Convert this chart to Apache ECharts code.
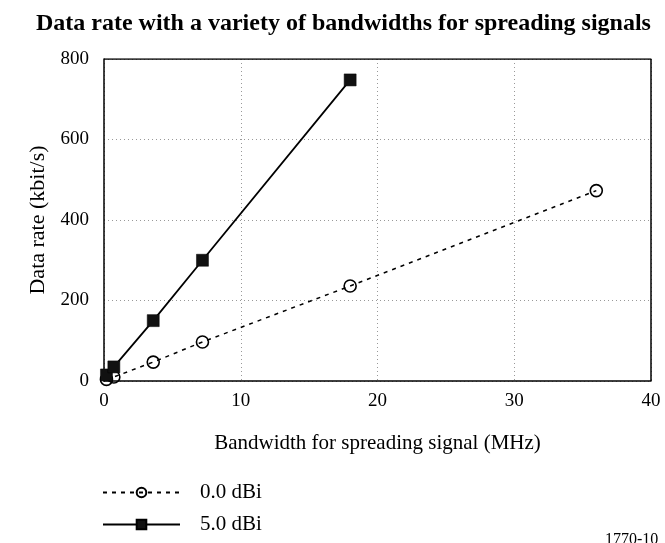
<!DOCTYPE html>
<html>
<head>
<meta charset="utf-8">
<script src="https://cdn.jsdelivr.net/npm/echarts@6/dist/echarts.min.js"></script>
<style>html,body{margin:0;padding:0;background:#fff;}#c{width:665px;height:543px;}</style>
</head>
<body>
<div id="c"></div>
<script>
const seriesNames = ['0.0 dBi', '5.0 dBi'];
const bw0 = [0.18, 0.72, 3.6, 7.2, 18, 36];
const rate0 = [4, 10, 47, 97, 236, 473];
const bw5 = [0.18, 0.72, 3.6, 7.2, 18];
const rate5 = [15, 35, 150, 300, 748];
const xTicks = [0, 10, 20, 30, 40];
const yTicks = [0, 200, 400, 600, 800];

const font = '"Liberation Serif", "Times New Roman", serif';
const chart = echarts.init(document.getElementById('c'), null, {renderer: 'canvas'});
chart.setOption({
  backgroundColor: '#fff',
  animation: false,
  title: {
    text: 'Data rate with a variety of bandwidths for spreading signals',
    left: 31, top: 7,
    textStyle: {fontFamily: font, fontSize: 24, fontWeight: 'bold', color: '#000'}
  },
  graphic: [{
    type: 'text', left: 605, top: 532,
    style: {text: '1770-10', font: '16px ' + font, fill: '#000'}
  }],
  legend: {
    orient: 'vertical', left: 97, top: 477, itemGap: 11,
    itemWidth: 77, itemHeight: 12,
    textStyle: {fontFamily: font, fontSize: 21, color: '#000', padding: [0, 0, 0, 15]},
    data: seriesNames
  },
  grid: {left: 104, right: 14, top: 59, bottom: 162, show: false},
  xAxis: {
    type: 'value', min: xTicks[0], max: xTicks[xTicks.length - 1], interval: 10,
    name: 'Bandwidth for spreading signal (MHz)', nameLocation: 'middle', nameGap: 52,
    nameTextStyle: {fontFamily: font, fontSize: 21, color: '#000'},
    axisLine: {show: true, onZero: false, lineStyle: {color: '#000', width: 1.5}},
    axisTick: {show: false},
    axisLabel: {fontFamily: font, fontSize: 19, color: '#000', margin: 11},
    splitLine: {show: true, lineStyle: {color: '#999', type: [1, 3], width: 1}}
  },
  yAxis: {
    type: 'value', min: yTicks[0], max: yTicks[yTicks.length - 1], interval: 200,
    name: 'Data rate (kbit/s)', nameLocation: 'middle', nameGap: 53,
    nameTextStyle: {fontFamily: font, fontSize: 22, color: '#000'},
    axisLine: {show: true, onZero: false, lineStyle: {color: '#000', width: 1.5}},
    axisTick: {show: false},
    axisLabel: {fontFamily: font, fontSize: 19, color: '#000', margin: 15},
    splitLine: {show: true, lineStyle: {color: '#999', type: [1, 3], width: 1}}
  },
  series: [
    {
      name: seriesNames[0], type: 'line',
      data: bw0.map((x, i) => [x, rate0[i]]),
      symbol: 'circle', symbolSize: 12, showAllSymbol: true,
      itemStyle: {color: 'rgba(255,255,255,0)', borderColor: '#000', borderWidth: 1.6},
      lineStyle: {color: '#000', width: 1.5, type: [4, 5]},
      z: 2
    },
    {
      name: seriesNames[1], type: 'line',
      data: bw5.map((x, i) => [x, rate5[i]]),
      symbol: 'rect', symbolSize: 12, showAllSymbol: true,
      itemStyle: {color: '#111', borderColor: '#000', borderWidth: 0.5},
      lineStyle: {color: '#000', width: 1.8, type: 'solid'},
      z: 3
    },
    {
      type: 'line', silent: true, symbol: 'none', legendHoverLink: false,
      data: [[40, 0], [40, 800], [0, 800]],
      lineStyle: {color: '#000', width: 1.5}, z: 4
    }
  ]
});
</script>
</body>
</html>
